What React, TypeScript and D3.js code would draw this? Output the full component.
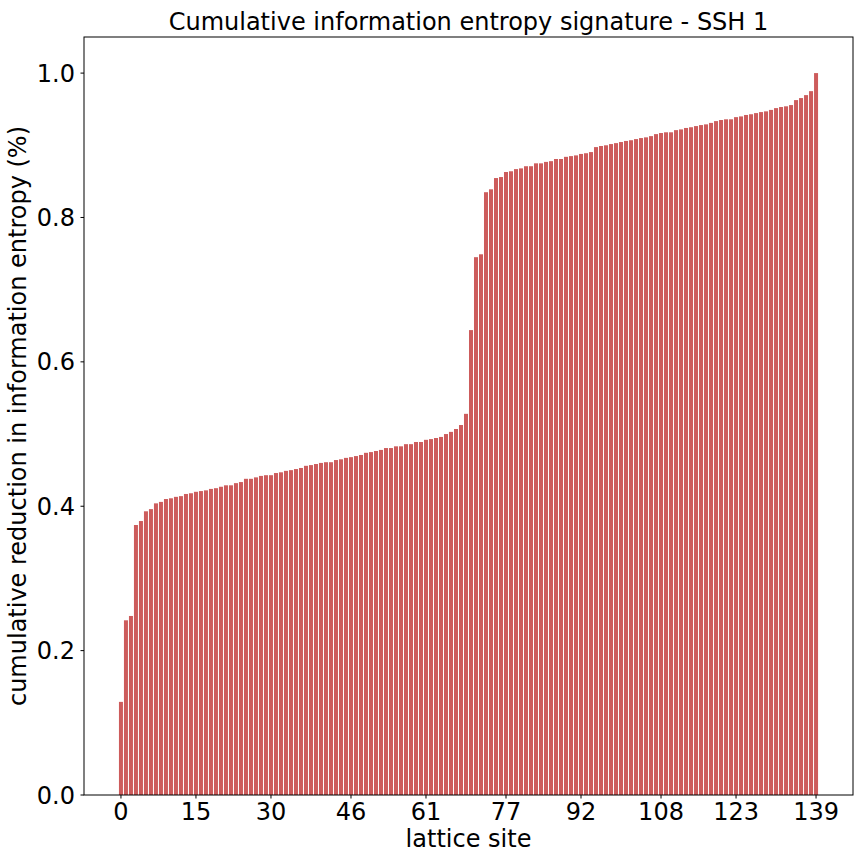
import React from "react";
import * as d3 from "d3";

const values: number[] = [
  0.129, 0.242, 0.248, 0.374, 0.3795, 0.393, 0.396, 0.404, 0.406, 0.41,
  0.411, 0.413, 0.414, 0.417, 0.418, 0.42, 0.421, 0.422, 0.424, 0.425,
  0.427, 0.429, 0.429, 0.432, 0.4335, 0.438, 0.438, 0.44, 0.442, 0.443,
  0.443, 0.446, 0.447, 0.449, 0.45, 0.4515, 0.453, 0.456, 0.457, 0.4585,
  0.46, 0.461, 0.461, 0.464, 0.465, 0.467, 0.468, 0.4695, 0.471, 0.474,
  0.475, 0.4765, 0.478, 0.4806, 0.4806, 0.483, 0.483, 0.486, 0.486, 0.489,
  0.489, 0.492, 0.493, 0.4945, 0.496, 0.5, 0.503, 0.507, 0.5125, 0.528,
  0.644, 0.745, 0.749, 0.835, 0.839, 0.8546, 0.856, 0.863, 0.864, 0.867,
  0.868, 0.871, 0.871, 0.875, 0.875, 0.877, 0.878, 0.881, 0.881, 0.884,
  0.885, 0.886, 0.888, 0.889, 0.8906, 0.8975, 0.899, 0.9, 0.9017, 0.903,
  0.9045, 0.906, 0.907, 0.9086, 0.91, 0.911, 0.9127, 0.9155, 0.917, 0.918,
  0.918, 0.921, 0.922, 0.924, 0.925, 0.9266, 0.928, 0.929, 0.931, 0.9335,
  0.935, 0.936, 0.936, 0.939, 0.94, 0.942, 0.943, 0.9446, 0.946, 0.947,
  0.949, 0.9515, 0.953, 0.954, 0.9557, 0.9626, 0.9654, 0.9695, 0.975, 1.0,
];

const xTickValues: number[] = [0, 15, 30, 46, 61, 77, 92, 108, 123, 139];
const yTickValues: number[] = [0, 0.2, 0.4, 0.6, 0.8, 1.0];

const title = "Cumulative information entropy signature - SSH 1";
const xLabel = "lattice site";
const yLabel = "cumulative reduction in information entropy (%)";

export default function App() {
  const W = 864;
  const H = 864;
  const left = 84;
  const right = 853;
  const top = 37;
  const bottom = 795;
  const barW = 0.8;
  const n = values.length;
  const x0 = -barW / 2;
  const x1 = n - 1 + barW / 2;
  const m = (x1 - x0) * 0.05;
  const x = d3.scaleLinear().domain([x0 - m, x1 + m]).range([left, right]);
  const y = d3.scaleLinear().domain([0, 1.05]).range([bottom, top]);
  const font = "DejaVu Sans, sans-serif";
  const fs = 24;
  const fmt = d3.format(".1f");

  return (
    <svg
      width={W}
      height={H}
      style={{ position: "absolute", left: 0, top: 0, background: "#fff" }}
    >
      <rect x={0} y={0} width={W} height={H} fill="#fff" />
      {values.map((v, i) => (
        <rect
          key={i}
          x={x(i - barW / 2)}
          y={y(v)}
          width={x(barW) - x(0)}
          height={y(0) - y(v)}
          fill="#cd5c5c"
        />
      ))}
      <rect
        x={left}
        y={top}
        width={right - left}
        height={bottom - top}
        fill="none"
        stroke="#000"
        strokeWidth={1}
      />
      {xTickValues.map((t) => (
        <g key={t} transform={`translate(${x(t)},${bottom})`}>
          <line y1={0} y2={3.5} stroke="#000" strokeWidth={1} />
          <text
            y={25}
            textAnchor="middle"
            fontFamily={font}
            fontSize={fs}
            fill="#000"
          >
            {t}
          </text>
        </g>
      ))}
      {yTickValues.map((t) => (
        <g key={t} transform={`translate(${left},${y(t)})`}>
          <line x1={0} x2={-3.5} stroke="#000" strokeWidth={1} />
          <text
            x={-9}
            dy="0.36em"
            textAnchor="end"
            fontFamily={font}
            fontSize={fs}
            fill="#000"
          >
            {fmt(t)}
          </text>
        </g>
      ))}
      <text
        x={(left + right) / 2}
        y={30}
        textAnchor="middle"
        fontFamily={font}
        fontSize={fs}
        fill="#000"
      >
        {title}
      </text>
      <text
        x={(left + right) / 2}
        y={847}
        textAnchor="middle"
        fontFamily={font}
        fontSize={fs}
        fill="#000"
      >
        {xLabel}
      </text>
      <text
        transform={`translate(26,${(top + bottom) / 2}) rotate(-90)`}
        textAnchor="middle"
        fontFamily={font}
        fontSize={fs}
        fill="#000"
      >
        {yLabel}
      </text>
    </svg>
  );
}
